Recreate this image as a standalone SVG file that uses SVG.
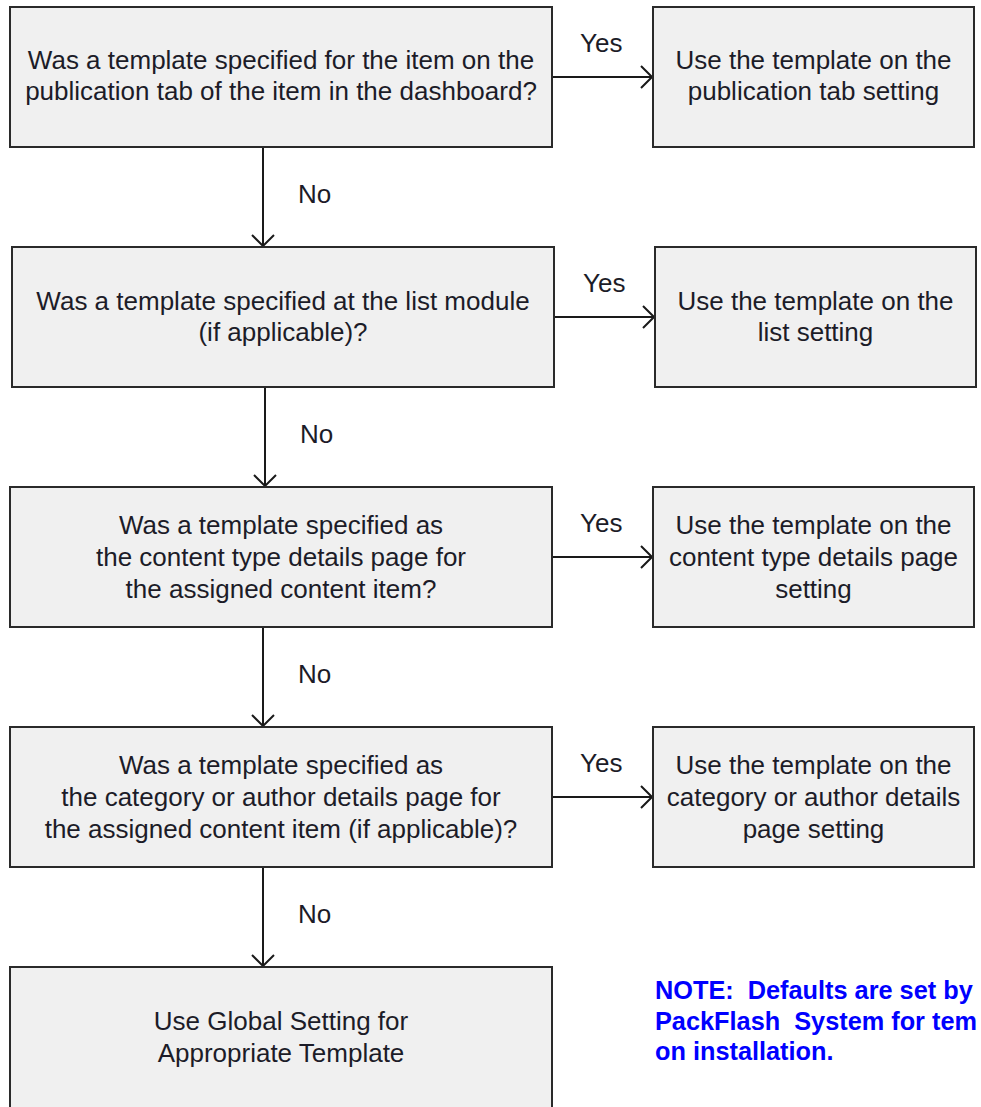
<svg xmlns="http://www.w3.org/2000/svg" width="981" height="1107" viewBox="0 0 981 1107">
<style>
.box{fill:#f0f0f0;stroke:#2a2a2a;stroke-width:2}
.t{font-family:"Liberation Sans",Arial,sans-serif;font-size:26px;fill:#1c1c28;text-anchor:middle}
.lbl{font-family:"Liberation Sans",Arial,sans-serif;font-size:26px;fill:#1c1c28}
.note{font-family:"Liberation Sans",Arial,sans-serif;font-size:25.3px;font-weight:bold;fill:#0000ff}
.c{fill:none;stroke:#1a1a1a;stroke-width:2}
</style>
<defs>
<marker id="arr" markerUnits="userSpaceOnUse" viewBox="0 0 13 24" refX="12" refY="12" markerWidth="13" markerHeight="24" orient="auto">
<path d="M1,1 L12,12 L1,23" fill="none" stroke="#1a1a1a" stroke-width="2"/>
</marker>
</defs>
<g id="connectors">
<line class="c" x1="263" y1="147" x2="263" y2="246" marker-end="url(#arr)"/>
<line class="c" x1="265" y1="387" x2="265" y2="486" marker-end="url(#arr)"/>
<line class="c" x1="263" y1="627" x2="263" y2="726" marker-end="url(#arr)"/>
<line class="c" x1="263" y1="867" x2="263" y2="966" marker-end="url(#arr)"/>
<line class="c" x1="552" y1="77" x2="652" y2="77" marker-end="url(#arr)"/>
<line class="c" x1="554" y1="317" x2="654" y2="317" marker-end="url(#arr)"/>
<line class="c" x1="552" y1="557" x2="652" y2="557" marker-end="url(#arr)"/>
<line class="c" x1="552" y1="797" x2="652" y2="797" marker-end="url(#arr)"/>
<text class="lbl" x="580" y="52">Yes</text>
<text class="lbl" x="583" y="292">Yes</text>
<text class="lbl" x="580" y="532">Yes</text>
<text class="lbl" x="580" y="772">Yes</text>
<text class="lbl" x="298" y="203">No</text>
<text class="lbl" x="300" y="443">No</text>
<text class="lbl" x="298" y="683">No</text>
<text class="lbl" x="298" y="923">No</text>
</g>
<g id="q1">
<rect class="box" x="10" y="7" width="542" height="140"/>
<text class="t" x="281" y="69">Was a template specified for the item on the</text>
<text class="t" x="281" y="100">publication tab of the item in the dashboard?</text>
</g>
<g id="r1">
<rect class="box" x="653" y="7" width="321" height="140"/>
<text class="t" x="813.5" y="69">Use the template on the</text>
<text class="t" x="813.5" y="100">publication tab setting</text>
</g>
<g id="q2">
<rect class="box" x="12" y="247" width="542" height="140"/>
<text class="t" x="283" y="310">Was a template specified at the list module</text>
<text class="t" x="283" y="341">(if applicable)?</text>
</g>
<g id="r2">
<rect class="box" x="655" y="247" width="321" height="140"/>
<text class="t" x="815.5" y="310">Use the template on the</text>
<text class="t" x="815.5" y="341">list setting</text>
</g>
<g id="q3">
<rect class="box" x="10" y="487" width="542" height="140"/>
<text class="t" x="281" y="534">Was a template specified as</text>
<text class="t" x="281" y="566">the content type details page for</text>
<text class="t" x="281" y="598">the assigned content item?</text>
</g>
<g id="r3">
<rect class="box" x="653" y="487" width="321" height="140"/>
<text class="t" x="813.5" y="534">Use the template on the</text>
<text class="t" x="813.5" y="566">content type details page</text>
<text class="t" x="813.5" y="598">setting</text>
</g>
<g id="q4">
<rect class="box" x="10" y="727" width="542" height="140"/>
<text class="t" x="281" y="774">Was a template specified as</text>
<text class="t" x="281" y="806">the category or author details page for</text>
<text class="t" x="281" y="838">the assigned content item (if applicable)?</text>
</g>
<g id="r4">
<rect class="box" x="653" y="727" width="321" height="140"/>
<text class="t" x="813.5" y="774">Use the template on the</text>
<text class="t" x="813.5" y="806">category or author details</text>
<text class="t" x="813.5" y="838">page setting</text>
</g>
<g id="end">
<rect class="box" x="10" y="967" width="542" height="145"/>
<text class="t" x="281" y="1030">Use Global Setting for</text>
<text class="t" x="281" y="1062">Appropriate Template</text>
</g>
<g id="note">
<text class="note" x="655" y="999" xml:space="preserve">NOTE:  Defaults are set by</text>
<text class="note" x="655" y="1030" xml:space="preserve">PackFlash  System for tem</text>
<text class="note" x="655" y="1060">on installation.</text>
</g>
</svg>
